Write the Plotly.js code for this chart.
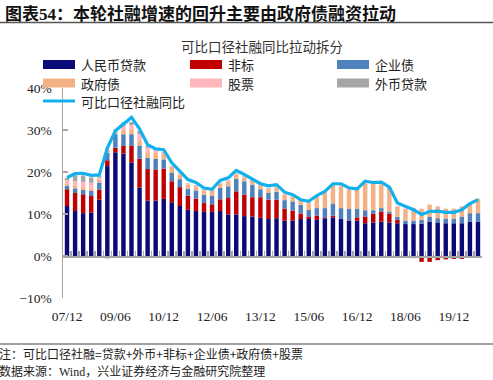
<!DOCTYPE html>
<html>
<head>
<meta charset="utf-8">
<script src="https://cdn.plot.ly/plotly-3.0.1.min.js"></script>
<style>html,body{margin:0;padding:0;background:#fff;}#chart{width:493px;height:380px;}</style>
</head>
<body>
<div id="chart"></div>
<script>
// Quarter categories (yy/mm)
const categories = ['07/12','08/03','08/06','08/09','08/12','09/03','09/06','09/09','09/12','10/03','10/06','10/09','10/12','11/03','11/06','11/09','11/12','12/03','12/06','12/09','12/12','13/03','13/06','13/09','13/12','14/03','14/06','14/09','14/12','15/03','15/06','15/09','15/12','16/03','16/06','16/09','16/12','17/03','17/06','17/09','17/12','18/03','18/06','18/09','18/12','19/03','19/06','19/09','19/12','20/03','20/06','20/09'];
const tickLabels = ['07/12','09/06','10/12','12/06','13/12','15/06','16/12','18/06','19/12'];

// contribution to yoy growth, %
const rmbLoans   = [11.9,10.7,10.2,10.3,13.4,21.4,24.7,24.4,22.3,16.3,13.2,13.2,13.6,12.8,11.9,11.0,10.7,10.5,10.5,10.7,9.9,9.9,9.5,9.4,9.1,8.8,9.0,8.4,8.4,8.8,8.8,8.6,9.0,9.2,8.8,8.4,8.4,7.8,8.0,8.2,8.0,7.8,7.6,7.6,7.7,8.2,8.0,7.8,7.8,7.8,8.2,8.2];
const shadow     = [4.0,4.3,4.5,4.0,2.4,1.4,1.1,1.8,3.9,6.9,7.5,7.4,7.2,5.0,4.5,3.4,3.0,2.1,1.8,2.8,3.9,5.5,5.1,4.6,4.9,4.6,4.4,2.9,2.4,1.3,0.5,1.0,0.2,0.4,-0.2,0.1,0.8,1.6,2.1,2.4,2.1,0.8,0.0,-0.5,-1.4,-1.4,-1.0,-0.8,-0.7,-0.7,-0.4,-0.2];
const corpBonds  = [0.8,1.1,1.1,1.2,1.7,1.8,3.2,2.8,2.8,3.1,2.7,2.5,2.2,2.1,1.9,1.6,1.9,2.0,2.0,2.7,2.8,3.0,3.2,3.0,1.9,1.6,1.9,2.0,2.2,2.1,1.7,1.8,2.2,2.9,2.6,2.7,2.0,1.5,0.8,0.8,0.5,0.7,0.8,0.8,0.9,1.1,1.0,1.1,1.1,1.6,2.0,2.0];
const govBonds   = [0.5,0.6,0.6,0.6,0.7,0.8,0.6,1.0,1.2,1.1,1.3,1.5,1.3,1.3,1.1,1.0,1.0,1.0,1.2,1.0,1.2,1.0,0.9,1.0,1.1,0.9,1.1,1.3,1.2,1.2,1.6,2.7,3.6,4.5,5.2,4.6,4.8,6.3,6.4,5.6,5.6,2.5,2.8,3.0,2.6,2.9,2.8,2.3,2.3,2.4,2.4,3.4];
const equity     = [0.8,1.1,1.2,1.3,0.5,0.3,0.3,1.0,1.0,1.6,1.1,0.6,0.3,0.2,0.2,0.2,0.2,0.2,0.2,0.2,0.2,0.2,0.2,0.2,0.2,0.2,0.2,0.2,0.2,0.2,0.2,0.2,0.2,0.2,0.2,0.2,0.2,0.2,0.2,0.2,0.2,0.1,0.1,0.1,0.1,0.1,0.1,0.1,0.1,0.1,0.1,0.1];
const fxLoans    = [0.6,1.4,1.6,1.3,0.3,-0.6,0.2,0.8,0.7,0.8,0.4,0.3,0.2,0.1,0.1,0.1,0.1,0.1,0.1,0.1,0.1,0.1,0.1,0.1,0.1,0.1,0.1,0.0,0.0,-0.1,-0.1,-0.2,-0.3,-0.3,-0.3,-0.3,-0.1,0.0,0.0,0.0,0.0,0.0,0.0,0.0,0.0,0.0,0.0,0.0,0.0,0.0,0.0,0.0];
const tsfYoY     = [18.7,19.6,19.7,19.2,19.3,25.7,29.8,31.5,33.0,30.3,26.5,25.5,25.3,22.2,20.2,18.2,17.5,16.2,15.9,18.0,18.6,20.4,19.4,18.3,17.2,16.7,17.0,15.2,14.6,13.4,13.0,14.4,15.4,17.2,17.2,16.2,16.0,17.8,17.5,17.6,16.4,12.6,11.8,11.0,9.9,10.6,10.7,10.4,10.4,11.0,12.5,13.4];

const seriesNames = ['人民币贷款','非标','企业债','政府债','股票','外币贷款'];
const seriesData = [rmbLoans, shadow, corpBonds, govBonds, equity, fxLoans];
const seriesColors = ['#0A0A78','#C00000','#4F81BD','#F4B183','#FFB7BC','#A6A6A6'];
const lineName = '可比口径社融同比';
const lineColor = '#12B0EC';

const traces = seriesData.map((d, i) => ({
  type: 'bar', x: categories, y: d, name: seriesNames[i],
  marker: {color: seriesColors[i], line: {width: 0}},
  showlegend: false, hoverinfo: 'skip', xaxis: 'x', yaxis: 'y'
}));
traces.push({
  type: 'scatter', mode: 'lines', x: categories, y: tsfYoY, name: lineName,
  line: {color: lineColor, width: 3.2}, showlegend: false, hoverinfo: 'skip',
  xaxis: 'x2', yaxis: 'y'
});

// pixel -> paper helpers
const W = 493, H = 380, ML = 63, MR = 11, MT = 88, MB = 82;
const PW = W - ML - MR, PH = H - MT - MB;
const fx = px => (px - ML) / PW;
const fy = py => (H - MB - py) / PH;

const shapes = [];
const annotations = [];
// header rule and footer rule
shapes.push({type:'line', xref:'paper', yref:'paper', x0:fx(0), x1:fx(493), y0:fy(22.5), y1:fy(22.5), line:{color:'#555', width:1.5}});
shapes.push({type:'line', xref:'paper', yref:'paper', x0:fx(0), x1:fx(493), y0:fy(344), y1:fy(344), line:{color:'#444', width:1}});

// custom legend
const legCols = [43, 190, 337];
const legRows = [64.5, 83, 101];
const legItems = seriesNames.map((n, i) => ({name: n, color: seriesColors[i], kind: 'bar'}));
legItems.push({name: lineName, color: lineColor, kind: 'line'});
legItems.forEach((it, i) => {
  const c = legCols[i % 3], r = legRows[Math.floor(i / 3)];
  if (it.kind === 'bar') {
    shapes.push({type:'rect', xref:'paper', yref:'paper', x0:fx(c), x1:fx(c+32), y0:fy(r+4.5), y1:fy(r-4.5), fillcolor:it.color, line:{width:0}});
  } else {
    shapes.push({type:'line', xref:'paper', yref:'paper', x0:fx(c), x1:fx(c+32), y0:fy(r), y1:fy(r), line:{color:it.color, width:3}});
  }
  annotations.push({xref:'paper', yref:'paper', x:fx(c+37), y:fy(r), xanchor:'left', yanchor:'middle', showarrow:false, borderpad:0, text:it.name, font:{family:'Noto Sans CJK SC', size:13, color:'#222'}});
});

// header, chart title, footer
annotations.push({xref:'paper', yref:'paper', x:fx(4), y:fy(13), xanchor:'left', yanchor:'middle', showarrow:false, borderpad:0,
  text:'<b>图表<span style="font-family:Liberation Serif">54</span>：本轮社融增速的回升主要由政府债融资拉动</b>',
  font:{family:'Noto Sans CJK SC', size:17, color:'#111'}});
annotations.push({xref:'paper', yref:'paper', x:fx(262), y:fy(45.5), xanchor:'center', yanchor:'middle', showarrow:false, borderpad:0,
  text:'可比口径社融同比拉动拆分', font:{family:'Noto Sans CJK SC', size:13.5, color:'#333'}});
annotations.push({xref:'paper', yref:'paper', x:fx(-2), y:fy(353), xanchor:'left', yanchor:'middle', showarrow:false, borderpad:0,
  text:'注：可比口径社融=贷款+外币+非标+企业债+政府债+股票', font:{family:'Noto Sans CJK SC', size:12, color:'#222'}});
annotations.push({xref:'paper', yref:'paper', x:fx(-2), y:fy(370), xanchor:'left', yanchor:'middle', showarrow:false, borderpad:0,
  text:'数据来源：<span style="font-family:Liberation Serif">Wind</span>，兴业证券经济与金融研究院整理', font:{family:'Noto Sans CJK SC', size:12, color:'#222'}});

const layout = {
  width: W, height: H,
  margin: {l: ML, r: MR, t: MT, b: MB, pad: 0},
  paper_bgcolor: '#fff', plot_bgcolor: '#fff',
  barmode: 'relative', bargap: 0.45,
  showlegend: false,
  xaxis: {
    type: 'category', categoryorder: 'array', categoryarray: categories,
    range: [-0.5, categories.length - 0.5],
    anchor: 'free', position: 0.2,
    showline: true, linecolor: '#A6A6A6', linewidth: 1.5,
    ticks: 'inside', ticklen: 5, tickcolor: '#A6A6A6', tickwidth: 1.5,
    tickson: 'boundaries', tickmode: 'linear', tick0: 0, dtick: 1,
    showticklabels: false, showgrid: false, zeroline: false, fixedrange: true
  },
  xaxis2: {
    type: 'category', categoryorder: 'array', categoryarray: categories,
    range: [-0.5, categories.length - 0.5],
    overlaying: 'x', anchor: 'y', side: 'bottom',
    tickmode: 'array', tickvals: tickLabels, ticktext: tickLabels,
    ticks: '', showline: false, showgrid: false, zeroline: false,
    ticklabelstandoff: 8,
    tickfont: {family: 'Liberation Serif', size: 13.5, color: '#222'}
  },
  yaxis: {
    range: [-10, 40], tickmode: 'linear', tick0: 0, dtick: 10, ticksuffix: '%',
    showline: true, linecolor: '#A6A6A6', linewidth: 1.5,
    ticks: 'inside', ticklen: 5, tickcolor: '#A6A6A6', tickwidth: 1.5,
    showgrid: false, zeroline: false, ticklabelstandoff: 7,
    tickfont: {family: 'Liberation Serif', size: 13.5, color: '#222'}
  },
  shapes: shapes,
  annotations: annotations
};

Plotly.newPlot('chart', traces, layout, {staticPlot: true, displayModeBar: false});
</script>
</body>
</html>
